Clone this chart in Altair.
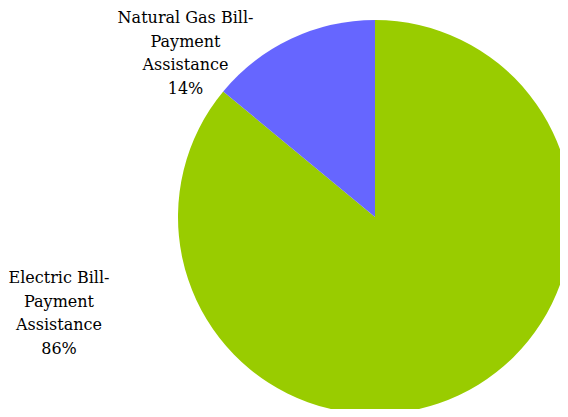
import altair as alt
import pandas as pd

categories = ["Electric Bill-Payment Assistance", "Natural Gas Bill-Payment Assistance"]
shares = [86, 14]
label_texts = ["Electric Bill-\nPayment\nAssistance\n86%", "Natural Gas Bill-\nPayment\nAssistance\n14%"]
colors = ["#99CC00", "#6666FF"]

df = pd.DataFrame({"category": categories, "share": shares, "label": label_texts,
                   "order": [0, 1]})

base = alt.Chart(df)

pie = base.mark_arc(stroke=None).encode(
    theta=alt.Theta("share:Q", stack=True),
    order=alt.Order("order:Q"),
    color=alt.Color("category:N", scale=alt.Scale(domain=categories, range=colors), legend=None),
    x=alt.value(367),
    y=alt.value(209),
    radius=alt.value(197),
)

text_style = dict(font="DejaVu Serif", fontSize=16, lineBreak="\n", lineHeight=23.5,
                  align="center", baseline="alphabetic", color="black")

gas_label = base.transform_filter(alt.datum.order == 1).mark_text(**text_style).encode(
    text="label:N", x=alt.value(177.5), y=alt.value(15))
elec_label = base.transform_filter(alt.datum.order == 0).mark_text(**text_style).encode(
    text="label:N", x=alt.value(51), y=alt.value(275))

chart = alt.layer(pie, gas_label, elec_label).properties(
    width=552, height=401, autosize=alt.AutoSizeParams(type="none"), padding=0
).configure_view(stroke=None)

chart.save("out.html", embed_options={"renderer": "svg", "actions": False})
